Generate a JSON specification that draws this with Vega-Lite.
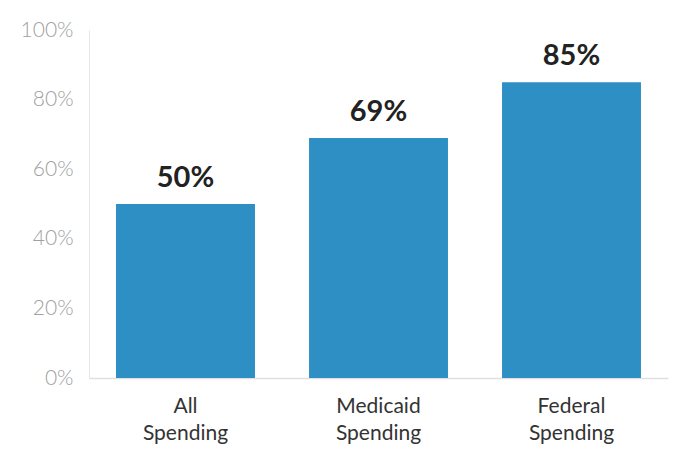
{
  "$schema": "https://vega.github.io/schema/vega-lite/v6.json",
  "width": 579,
  "height": 348,
  "autosize": {"type": "none"},
  "padding": {"left": 89, "top": 30, "right": 8, "bottom": 71},
  "background": "white",
  "config": {"view": {"stroke": null}, "font": "Lato"},
  "data": {"values": [
    {"category": "All Spending", "value": 0.50},
    {"category": "Medicaid Spending", "value": 0.69},
    {"category": "Federal Spending", "value": 0.85}
  ]},
  "encoding": {
    "x": {"field": "category", "type": "nominal", "sort": null,
      "scale": {"paddingInner": 0.28, "paddingOuter": 0.14},
      "axis": {"title": null, "labelAngle": 0, "labelExpr": "split(datum.label, ' ')",
        "labelFont": "Lato", "labelFontSize": 21, "labelColor": "#333333", "labelPadding": 17, "labelLineHeight": 27,
        "ticks": false, "domainColor": "#e0e0e0", "domainWidth": 1.5}},
    "y": {"field": "value", "type": "quantitative",
      "scale": {"domain": [0, 1]},
      "axis": {"title": null, "format": ".0%", "values": [0, 0.2, 0.4, 0.6, 0.8, 1],
        "grid": false, "ticks": false, "labelFont": "Lato", "labelFontSize": 21, "labelFontWeight": 300, "labelColor": "#a0a0a0", "labelPadding": 16,
        "domainColor": "#e6e6e6", "domainWidth": 1}}
  },
  "layer": [
    {"mark": {"type": "bar", "color": "#2E8FC5"}},
    {"mark": {"type": "text", "baseline": "bottom", "dy": -11, "fontSize": 29, "fontWeight": "bold", "color": "#222222", "font": "Lato"},
     "encoding": {"text": {"field": "value", "type": "quantitative", "format": ".0%"}}}
  ]
}
